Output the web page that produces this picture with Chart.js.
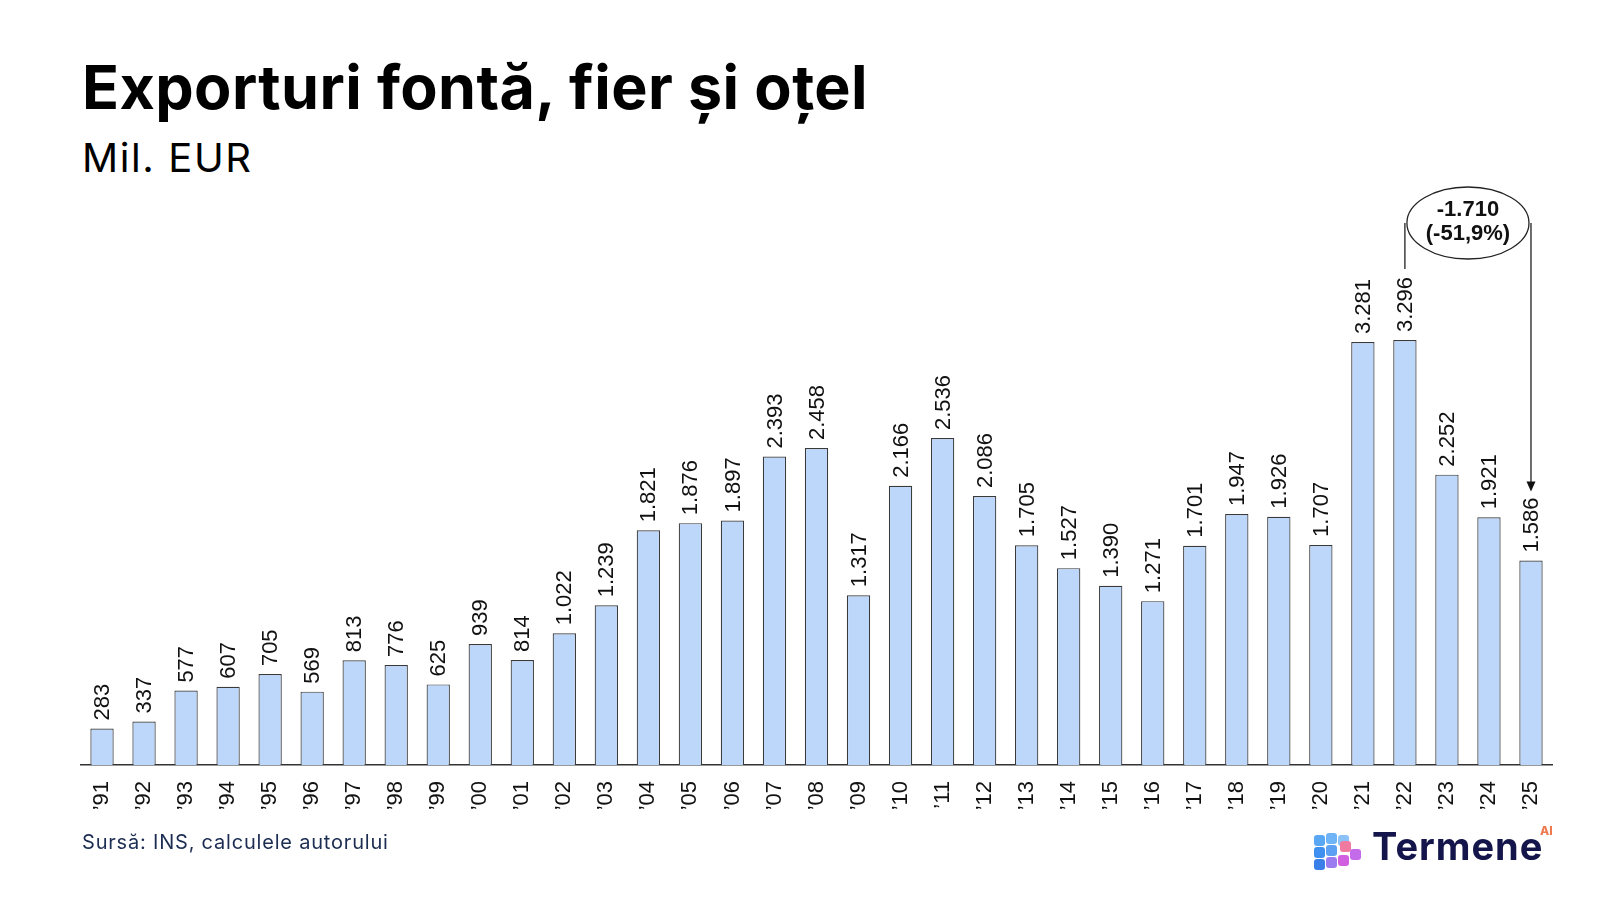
<!DOCTYPE html>
<html>
<head>
<meta charset="utf-8">
<script src="https://cdn.jsdelivr.net/npm/chart.js@4.4.1/dist/chart.umd.min.js"></script>
<style>
    body { margin: 0; background: #fff; }
    #wrap { position: relative; width: 1600px; height: 900px; overflow: hidden; }
    #chart { position: absolute; left: 0; top: 0; }
    .title { position: absolute; left: 82px; top: 50px; font: 700 61px Inter, sans-serif; letter-spacing: 0.4px; color: #000; }
    .sub { position: absolute; left: 82px; top: 133px; font: 400 40px Inter, sans-serif; letter-spacing: 1.6px; color: #000; }
    .src { position: absolute; left: 82px; top: 830px; font: 400 20px Inter, sans-serif; letter-spacing: 0.8px; color: #1c2d52; }
    .logo { position: absolute; left: 1314px; top: 829px; }
    .logo .txt { position: absolute; left: 58px; top: -6px; font: 700 38px Inter, sans-serif; color: #14154a; letter-spacing: 1px; }
    .logo .ai { position: absolute; left: 226px; top: -6px; font: 800 12px Inter, sans-serif; color: #f07a50; }
    .logo .cube { position: absolute; width: 11px; height: 11px; border-radius: 3px; }
</style>
</head>
<body>
<div id="wrap">
    <div class="title">Exporturi fontă, fier și oțel</div>
    <div class="sub">Mil. EUR</div>
    <canvas id="chart" width="1600" height="900"></canvas>
    <div class="src">Sursă: INS, calculele autorului</div>
    <div class="logo" id="logo">
        <span class="txt">Termene</span><span class="ai">AI</span>
    </div>
</div>
<script>
    const years = ['’91', '’92', '’93', '’94', '’95', '’96', '’97', '’98', '’99', '’00',
        '’01', '’02', '’03', '’04', '’05', '’06', '’07', '’08', '’09', '’10',
        '’11', '’12', '’13', '’14', '’15', '’16', '’17', '’18', '’19', '’20',
        '’21', '’22', '’23', '’24', '’25']
    const exports = [283, 337, 577, 607, 705, 569, 813, 776, 625, 939,
        814, 1022, 1239, 1821, 1876, 1897, 2393, 2458, 1317, 2166,
        2536, 2086, 1705, 1527, 1390, 1271, 1701, 1947, 1926, 1707,
        3281, 3296, 2252, 1921, 1586]
    const diffLines = ['-1.710', '(-51,9%)']
    const fromIdx = 31
    const toIdx = 34

    const fmt = v => v.toLocaleString('de-DE')
    const numFont = '"Liberation Sans", Arial, sans-serif'

    // logo cubes
    const logo = document.getElementById('logo')
    const cubeColors = ['#5aa8f5', '#6fb4f7', '#8ac2f9', '#3f8ff0', '#5ba0f2', '#f07aa0', '#3a7eea', '#9b7cf0', '#d060e0', '#c36be8']
    const cubePos = [[0, 6], [12, 4], [24, 6], [0, 18], [12, 16], [26, 12], [0, 30], [12, 28], [24, 26], [36, 20]]
    cubePos.forEach((p, i) => {
        const d = document.createElement('div')
        d.className = 'cube'
        d.style.left = p[0] + 'px'
        d.style.top = p[1] + 'px'
        d.style.background = cubeColors[i]
        logo.appendChild(d)
    })

    const valueLabels = {
        id: 'valueLabels',
        afterDatasetsDraw(chart) {
            const ctx = chart.ctx
            const meta = chart.getDatasetMeta(0)
            ctx.save()
            ctx.font = '22px ' + numFont
            ctx.fillStyle = '#111'
            ctx.textAlign = 'left'
            ctx.textBaseline = 'middle'
            meta.data.forEach((bar, i) => {
                ctx.save()
                ctx.translate(bar.x + 1, bar.y - 8)
                ctx.rotate(-Math.PI / 2)
                ctx.fillText(fmt(exports[i]), 0, 0)
                ctx.restore()
            })
            ctx.restore()
        }
    }

    const diffNote = {
        id: 'diffNote',
        afterDatasetsDraw(chart) {
            const ctx = chart.ctx
            const meta = chart.getDatasetMeta(0)
            const a = meta.data[fromIdx]
            const b = meta.data[toIdx]
            ctx.save()
            ctx.font = '22px ' + numFont
            const topA = a.y - 8 - ctx.measureText(fmt(exports[fromIdx])).width - 8
            const topB = b.y - 8 - ctx.measureText(fmt(exports[toIdx])).width - 6
            const cx = (a.x + b.x) / 2
            const cy = 223
            const rx = (b.x - a.x) / 2 - 2
            ctx.strokeStyle = '#222'
            ctx.lineWidth = 1.3
            ctx.beginPath()
            ctx.ellipse(cx, cy, rx, 36, 0, 0, Math.PI * 2)
            ctx.stroke()
            ctx.beginPath()
            ctx.moveTo(a.x, topA)
            ctx.lineTo(a.x, cy)
            ctx.moveTo(b.x, cy)
            ctx.lineTo(b.x, topB - 6)
            ctx.stroke()
            ctx.fillStyle = '#111'
            ctx.beginPath()
            ctx.moveTo(b.x, topB)
            ctx.lineTo(b.x - 4.5, topB - 10)
            ctx.lineTo(b.x + 4.5, topB - 10)
            ctx.closePath()
            ctx.fill()
            ctx.font = 'bold 22px ' + numFont
            ctx.textAlign = 'center'
            ctx.textBaseline = 'middle'
            ctx.fillText(diffLines[0], cx, cy - 13)
            ctx.fillText(diffLines[1], cx, cy + 11)
            ctx.restore()
        }
    }

    const ctx = document.getElementById('chart').getContext('2d')
    new Chart(ctx, {
        type: 'bar',
        data: {
            labels: years,
            datasets: [{
                data: exports,
                backgroundColor: '#bdd7fb',
                borderColor: '#3a3a3a',
                borderWidth: 1.2,
                barPercentage: 0.555,
                categoryPercentage: 1,
            }],
        },
        options: {
            responsive: false,
            animation: false,
            devicePixelRatio: 1,
            layout: { padding: { left: 81, right: 48, top: 190, bottom: 75 } },
            plugins: { legend: { display: false }, tooltip: { enabled: false }, title: { display: false } },
            scales: {
                x: {
                    grid: { display: false },
                    border: { display: true, color: '#333', width: 1.5 },
                    ticks: {
                        color: '#111',
                        font: { family: numFont, size: 22 },
                        minRotation: 90,
                        maxRotation: 90,
                        padding: 8,
                        autoSkip: false,
                    },
                    afterFit(scale) { scale.height = 60 },
                },
                y: {
                    display: false,
                    min: 0,
                    max: 4460,
                },
            },
        },
        plugins: [valueLabels, diffNote],
    })
</script>
</body>
</html>
